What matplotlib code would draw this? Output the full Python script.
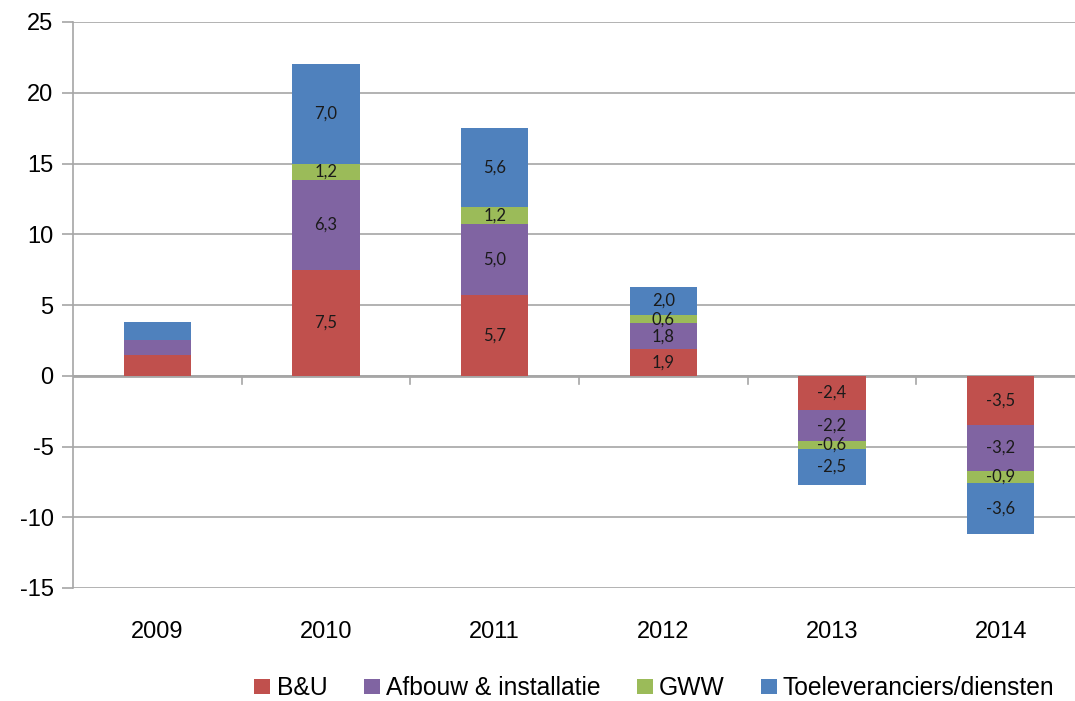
import numpy as np
import matplotlib.pyplot as plt

years = ['2009', '2010', '2011', '2012', '2013', '2014']
bu = [1.5, 7.5, 5.7, 1.9, -2.4, -3.5]
afbouw = [1.0, 6.3, 5.0, 1.8, -2.2, -3.2]
gww = [0.0, 1.2, 1.2, 0.6, -0.6, -0.9]
toelev = [1.3, 7.0, 5.6, 2.0, -2.5, -3.6]

series = [
    ('B&U', bu, '#C0504D'),
    ('Afbouw & installatie', afbouw, '#8064A2'),
    ('GWW', gww, '#9BBB59'),
    ('Toeleveranciers/diensten', toelev, '#4F81BD'),
]

plt.rcParams['font.family'] = ['Liberation Sans', 'DejaVu Sans']
plt.rcParams['axes.unicode_minus'] = False

fig = plt.figure(figsize=(10.75, 7.01), dpi=100)
ax = fig.add_axes([73 / 1075, 113 / 701, 1012 / 1075, 566 / 701])

x = np.arange(len(years))
bottom = np.zeros(len(years))
for name, vals, color in series:
    vals = np.array(vals)
    ax.bar(x, vals, 0.4, bottom=bottom, color=color, label=name, zorder=3)
    for i, (b, v) in enumerate(zip(bottom, vals)):
        if i == 0:
            continue  # no labels on the first year
        ax.text(x[i], b + v / 2, f'{v:.1f}'.replace('.', ','), ha='center', va='center',
                fontsize=12, family=['Lato', 'DejaVu Sans'], color='#1a1a1a', zorder=4)
    bottom = bottom + vals

ax.set_xlim(-0.5, len(years) - 0.5)
ax.set_ylim(-15, 25)
ax.set_yticks(range(-15, 26, 5))
ax.grid(axis='y', color='#A6A6A6', linewidth=1.2, zorder=0)
ax.axhline(0, color='#A6A6A6', linewidth=2, zorder=2)

for s in ['top', 'right', 'bottom']:
    ax.spines[s].set_visible(False)
ax.spines['left'].set_color('#A6A6A6')
ax.spines['left'].set_linewidth(1.2)
ax.tick_params(axis='y', labelsize=17, length=8, width=1.2, color='#A6A6A6', pad=6)

# category labels below the plot, boundary ticks on the zero line
ax.set_xticks([])
for i, yr in enumerate(years):
    ax.text(x[i], -18.1, yr, ha='center', va='center', fontsize=17, clip_on=False)
for b in np.arange(0.5, len(years) - 0.5, 1):
    ax.plot([b, b], [0, -0.55], color='#A6A6A6', linewidth=1.2, zorder=2)

ax.legend(loc='center', bbox_to_anchor=(0.5746, -0.177), ncol=4, frameon=False,
          fontsize=17.7, handlelength=0.65, handleheight=0.55, handletextpad=0.25,
          columnspacing=1.48, borderpad=0)

fig.savefig('out.png', dpi=100)
